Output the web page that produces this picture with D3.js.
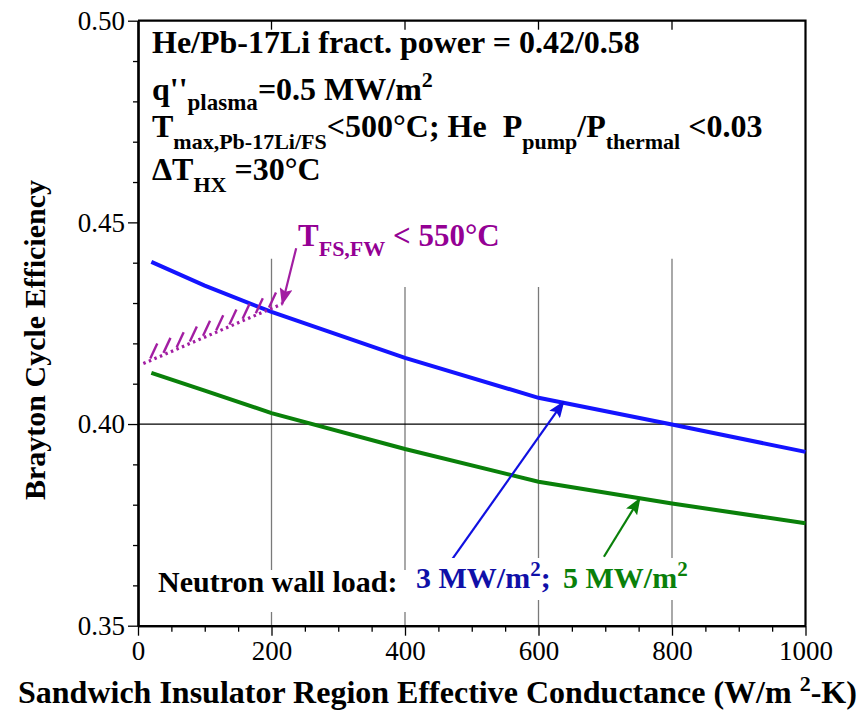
<!DOCTYPE html>
<html>
<head>
<meta charset="utf-8">
<script src="https://cdn.jsdelivr.net/npm/d3@7/dist/d3.min.js"></script>
<style>
body { margin: 0; background: #fff; }
text { font-family: "Liberation Serif", "Times New Roman", serif; }
</style>
</head>
<body>
<svg id="mainsvg" width="867" height="714"></svg>
<script>
// data
const conductance = [20, 100, 200, 400, 600, 800, 1000];
const eff3MW = [0.4402, 0.4343, 0.4278, 0.4164, 0.4065, 0.3999, 0.3931];
const eff5MW = [0.4127, 0.4083, 0.4027, 0.3938, 0.3857, 0.3803, 0.3754];
// T_FS,FW < 550C limit line
const limitX = [8, 216];
const limitEff = [0.4150, 0.4298];
const xTicks = [0, 200, 400, 600, 800, 1000];
const yTicks = [0.35, 0.40, 0.45, 0.50];
const gridX = [200, 400, 600, 800];
const gridTop = [0.441, 0.434, 0.434, 0.441];

const svg = d3.select('#mainsvg');
const width = +svg.attr('width');
const height = +svg.attr('height');
const margin = { top: 20.7, right: 61.5, bottom: 88.3, left: 138 };

const xScale = d3.scaleLinear()
  .domain([0, 1000])
  .range([margin.left, width - margin.right]);
const yScale = d3.scaleLinear()
  .domain([0.35, 0.50])
  .range([height - margin.bottom, margin.top]);

const blue = '#1414ff', green = '#0a800a', mag = '#a21ea2';

// arrow heads
const defs = svg.append('defs');
[['blue', '#1010e0'], ['green', '#0a800a'], ['mag', mag]].forEach(([id, c]) => {
  defs.append('marker')
    .attr('id', 'ah-' + id)
    .attr('markerUnits', 'userSpaceOnUse')
    .attr('markerWidth', 17).attr('markerHeight', 13)
    .attr('refX', 16).attr('refY', 6.5)
    .attr('orient', 'auto')
    .append('path')
    .attr('d', 'M0,0 L17,6.5 L0,13 L3,6.5 z')
    .attr('fill', c);
});

// vertical grid lines
gridX.forEach((v, i) => {
  svg.append('line')
    .attr('x1', xScale(v)).attr('x2', xScale(v))
    .attr('y1', yScale(gridTop[i])).attr('y2', yScale(0.35))
    .attr('stroke', '#7a7a7a').attr('stroke-width', 1.3);
});
// 0.40 line
svg.append('line')
  .attr('x1', xScale(0)).attr('x2', xScale(1000))
  .attr('y1', yScale(0.40)).attr('y2', yScale(0.40))
  .attr('stroke', '#000').attr('stroke-width', 1.2);

// axes
const xAxis = d3.axisBottom(xScale).tickValues(xTicks).tickSize(10).tickSizeOuter(0).tickPadding(5).tickFormat(d3.format('d'));
const xMinor = d3.axisBottom(xScale).tickValues(d3.range(50, 1000, 50).filter(v => v % 200)).tickSize(6).tickSizeOuter(0).tickFormat('');
const yAxis = d3.axisLeft(yScale).tickValues(yTicks).tickSize(10).tickSizeOuter(0).tickPadding(3).tickFormat(d3.format('.2f'));
const yMinor = d3.axisLeft(yScale).tickValues(d3.range(0.36, 0.50, 0.01).filter(v => Math.round(v * 100) % 5)).tickSize(5).tickSizeOuter(0).tickFormat('');

const gx = svg.append('g').attr('transform', `translate(0,${yScale(0.35)})`);
gx.append('g').call(xMinor);
gx.append('g').call(xAxis);
const gy = svg.append('g').attr('transform', `translate(${xScale(0)},0)`);
gy.append('g').call(yMinor);
gy.append('g').call(yAxis);
svg.selectAll('.domain').attr('stroke-width', 2.2);
svg.selectAll('.tick line').attr('stroke-width', 1.3);
svg.selectAll('.tick text')
  .attr('font-family', '"Liberation Serif", "Times New Roman", serif')
  .attr('font-size', 27);

// top / right frame and top ticks
svg.append('path')
  .attr('d', `M${xScale(0)},${yScale(0.5)} H${xScale(1000)} V${yScale(0.35)}`)
  .attr('fill', 'none').attr('stroke', '#000').attr('stroke-width', 2.2);
gridX.forEach(v => {
  svg.append('line')
    .attr('x1', xScale(v)).attr('x2', xScale(v))
    .attr('y1', yScale(0.5)).attr('y2', yScale(0.5) + 9)
    .attr('stroke', '#000').attr('stroke-width', 1.3);
});

// curves
const line = d3.line().x(d => xScale(d[0])).y(d => yScale(d[1]));
svg.append('path')
  .attr('d', line(d3.zip(conductance, eff3MW)))
  .attr('fill', 'none').attr('stroke', blue).attr('stroke-width', 4);
svg.append('path')
  .attr('d', line(d3.zip(conductance, eff5MW)))
  .attr('fill', 'none').attr('stroke', green).attr('stroke-width', 4);

// limit line, dotted with hatches
svg.append('path')
  .attr('d', line(d3.zip(limitX, limitEff)))
  .attr('fill', 'none').attr('stroke', mag).attr('stroke-width', 3.2)
  .attr('stroke-dasharray', '2.5,3.5');
const lx0 = xScale(limitX[0]), ly0 = yScale(limitEff[0]);
const lx1 = xScale(limitX[1]), ly1 = yScale(limitEff[1]);
d3.range(0.05, 1.0, 0.095).forEach(t => {
  const px = lx0 + (lx1 - lx0) * t, py = ly0 + (ly1 - ly0) * t;
  svg.append('line')
    .attr('x1', px).attr('y1', py - 2)
    .attr('x2', px + 7).attr('y2', py - 17)
    .attr('stroke', mag).attr('stroke-width', 2.4);
});

// arrows
function arrow(x0, y0, x1, y1, c, id) {
  svg.append('line')
    .attr('x1', xScale(x0)).attr('y1', yScale(y0))
    .attr('x2', xScale(x1)).attr('y2', yScale(y1))
    .attr('stroke', c).attr('stroke-width', 2.2)
    .attr('marker-end', `url(#ah-${id})`);
}
arrow(470, 0.3663, 638, 0.4056, '#1010e0', 'blue');
arrow(698, 0.3671, 752, 0.3816, green, 'green');
arrow(237, 0.4436, 216, 0.4297, mag, 'mag');

// white boxes behind the wall load label
svg.append('rect').attr('x', 152).attr('y', 570).attr('width', 256).attr('height', 42).attr('fill', '#fff');
svg.append('rect').attr('x', 410).attr('y', 558).attr('width', 290).attr('height', 42).attr('fill', '#fff');

// text helper
function rich(x, y, parts, opts = {}) {
  const t = svg.append('text')
    .attr('x', x).attr('y', y)
    .attr('font-weight', 'bold')
    .attr('font-size', opts.size || 30)
    .attr('fill', opts.fill || '#000')
    .attr('xml:space', 'preserve');
  parts.forEach(p => {
    const s = t.append('tspan').text(p.t);
    if (p.dy) s.attr('dy', p.dy);
    if (p.size) s.attr('font-size', p.size);
    if (p.fill) s.attr('fill', p.fill);
    if (p.x != null) s.attr('x', p.x);
  });
  return t;
}

// parameter block
rich(152, 53, [{ t: 'He/Pb-17Li fract. power = 0.42/0.58' }], { size: 32 });
rich(152, 100, [
  { t: "q''" }, { t: 'plasma', size: 23, dy: 10 },
  { t: '=0.5 MW/m', size: 32, dy: -10 }, { t: '2', size: 22, dy: -13 }
], { size: 32 });
rich(152, 137, [
  { t: 'T' }, { t: 'max,Pb-17Li/FS', size: 22, dy: 12 },
  { t: '<500°C; He  P', size: 32, dy: -12 }, { t: 'pump', size: 22, dy: 12 },
  { t: '/P', size: 32, dy: -12 }, { t: 'thermal', size: 22, dy: 12 },
  { t: ' <0.03', size: 32, dy: -12 }
], { size: 32 });
rich(152, 180, [
  { t: 'ΔT' }, { t: 'HX', size: 22, dy: 12 }, { t: ' =30°C', size: 32, dy: -12 }
], { size: 32 });

// limit annotation
rich(298, 246, [
  { t: 'T' }, { t: 'FS,FW', size: 22, dy: 10 }, { t: ' < 550°C', size: 31, dy: -10 }
], { fill: '#940094', size: 31 });

// wall load label
rich(158, 592, [{ t: 'Neutron wall load:' }]);
rich(416, 588, [
  { t: '3 MW/m' }, { t: '2', size: 21, dy: -12 }, { t: ';', size: 30, dy: 12 }
], { fill: '#1010a8' });
rich(563, 588, [
  { t: '5 MW/m' }, { t: '2', size: 21, dy: -12 }
], { fill: green });

// axis titles
rich(18, 703, [
  { t: 'Sandwich Insulator Region Effective Conductance (W/m ' },
  { t: '2', size: 22, dy: -12 }, { t: '-K)', size: 32, dy: 12 }
], { size: 32 });
rich(0, 0, [{ t: 'Brayton Cycle Efficiency' }])
  .attr('transform', 'translate(45,340) rotate(-90)')
  .attr('text-anchor', 'middle');
</script>
</body>
</html>
